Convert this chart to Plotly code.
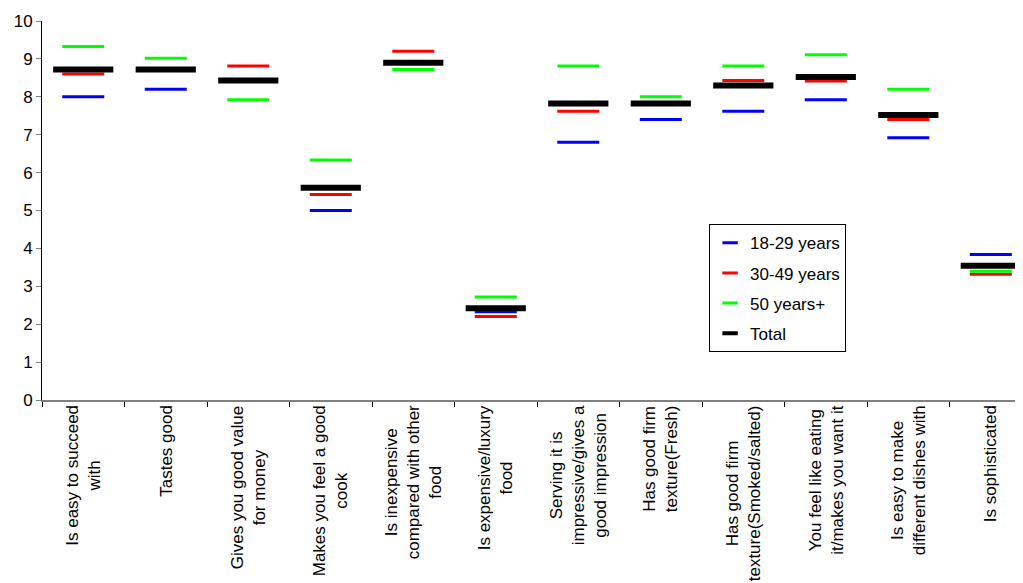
import plotly.graph_objects as go

# Statements (x-axis categories)
categories = [
    "Is easy to succeed<br>with",
    "Tastes good",
    "Gives you good value<br>for money",
    "Makes you feel a good<br>cook",
    "Is inexpensive<br>compared with other<br>food",
    "Is expensive/luxury<br>food",
    "Serving it is<br>impressive/gives a<br>good impression",
    "Has good firm<br>texture(Fresh)",
    "Has good firm<br>texture(Smoked/salted)",
    "You feel like eating<br>it/makes you want it",
    "Is easy to make<br>different dishes with",
    "Is sophisticated",
]

# Mean scores per age group
age_18_29 = [8.0, 8.2, 8.45, 5.0, 8.9, 2.33, 6.8, 7.4, 7.62, 7.92, 6.92, 3.84]
age_30_49 = [8.6, 8.7, 8.81, 5.42, 9.2, 2.2, 7.62, 7.8, 8.43, 8.42, 7.4, 3.32]
age_50_plus = [9.33, 9.02, 7.92, 6.33, 8.72, 2.72, 8.81, 8.0, 8.81, 9.11, 8.2, 3.4]
total = [8.72, 8.72, 8.43, 5.6, 8.9, 2.42, 7.82, 7.82, 8.3, 8.52, 7.52, 3.54]

y_ticks = [0, 1, 2, 3, 4, 5, 6, 7, 8, 9, 10]

FONT = "Liberation Sans, Arial, sans-serif"

series = [
    ("18-29 years", age_18_29, "#0000FF", 30, 3),
    ("30-49 years", age_30_49, "#FF0000", 30, 3),
    ("50 years+", age_50_plus, "#00FF00", 30, 3),
    ("Total", total, "#000000", 43, 6),
]

fig = go.Figure()

for name, vals, color, size, width in series:
    fig.add_trace(go.Scatter(
        x=categories, y=vals, mode="markers", showlegend=False,
        marker=dict(symbol="line-ew", size=size, line=dict(color=color, width=width)),
        hoverinfo="x+y", name=name,
    ))

# legend-only entries with short dashes like the original
for name, vals, color, size, width in series:
    fig.add_trace(go.Scatter(
        x=[None], y=[None], mode="markers", name=name, legendgroup=name,
        marker=dict(symbol="line-ew", size=11, line=dict(color=color, width=4 if name == "Total" else 3)),
    ))

# rotated category labels, centred multi-line
for cat in categories:
    fig.add_annotation(
        x=cat, y=0, xref="x", yref="paper", yanchor="top", yshift=-3,
        text=cat, textangle=-90, showarrow=False, align="center",
        font=dict(family=FONT, size=17, color="black"),
    )

# page body has an 8px margin, so the figure is sized to fit the window
fig.update_layout(
    width=1015, height=575,
    margin=dict(l=34, r=0, t=13, b=183),
    paper_bgcolor="white", plot_bgcolor="white",
    font=dict(family=FONT, size=17, color="black"),
    xaxis=dict(
        type="category", range=[-0.5, 11.39], automargin=False,
        showticklabels=False, showgrid=False, zeroline=False,
        showline=True, linecolor="#808080", linewidth=2,
        ticks="outside", tickson="boundaries", ticklen=5, tickcolor="black", tickwidth=1,
    ),
    yaxis=dict(
        range=[0, 10], tickvals=y_ticks, automargin=False,
        showgrid=False, zeroline=False,
        showline=True, linecolor="black", linewidth=1,
        ticks="outside", ticklen=5, tickcolor="#808080", tickwidth=1,
        tickfont=dict(size=17, color="black"),
    ),
    legend=dict(
        x=0.68, y=0.4636, xanchor="left", yanchor="top",
        bordercolor="black", borderwidth=1, bgcolor="white",
        font=dict(size=17), itemwidth=30, tracegroupgap=5,
    ),
)

fig.write_html("out.html")
